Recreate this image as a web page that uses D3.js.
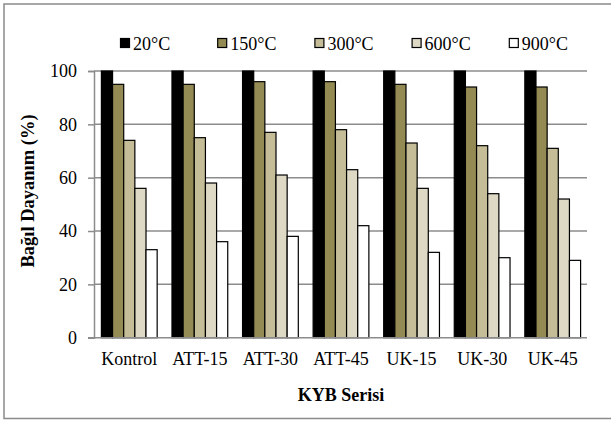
<!DOCTYPE html>
<html><head><meta charset="utf-8">
<script src="https://cdn.jsdelivr.net/npm/d3@7"></script>
<style>body{margin:0;background:#fff}svg{display:block}text{font-family:"Liberation Serif",serif;fill:#000}</style>
</head><body>
<svg id="c" width="611" height="421"></svg>
<script>
const categories = ["Kontrol","ATT-15","ATT-30","ATT-45","UK-15","UK-30","UK-45"];
const seriesNames = ["20°C","150°C","300°C","600°C","900°C"];
const s20  = [100,100,100,100,100,100,100];
const s150 = [95,95,96,96,95,94,94];
const s300 = [74,75,77,78,73,72,71];
const s600 = [56,58,61,63,56,54,52];
const s900 = [33,36,38,42,32,30,29];
const yTicks = [0,20,40,60,80,100];
const colors = ["#000000","#948A54","#C4BD97","#DDD9C4","#FFFFFF"];
const seriesValues = [s20,s150,s300,s600,s900];
const FONT = "Liberation Serif";

const svg = d3.select("#c");
svg.append("rect").attr("x",4).attr("y",4).attr("width",620).attr("height",414.5)
  .attr("fill","#fff").attr("stroke","#8a8a8a").attr("stroke-width",1.5);

const L=94, R=588, T=71, B=337.7;
const x0 = d3.scaleBand().domain(categories).range([L,R]).paddingInner(0.21).paddingOuter(0.105);
const x1 = d3.scaleBand().domain(seriesNames).range([0,x0.bandwidth()]);
const y = d3.scaleLinear().domain([0,100]).range([B,T]);

// gridlines
svg.append("g").selectAll("line").data(yTicks.filter(d=>d>0)).join("line")
  .attr("x1",L).attr("x2",R-1).attr("y1",d=>y(d)).attr("y2",d=>y(d))
  .attr("stroke","#8c8c8c").attr("stroke-width",1.5);

// y axis
const ya = svg.append("g").attr("transform",`translate(${L},0)`)
  .call(d3.axisLeft(y).tickValues(yTicks).tickSize(6).tickPadding(11));
ya.select(".domain").attr("stroke","#8c8c8c").attr("stroke-width",1.5);
ya.selectAll(".tick line").attr("stroke","#8c8c8c").attr("stroke-width",1.5);
ya.selectAll(".tick text").style("font-family",FONT).style("font-size","18px").attr("fill","#000");

// bars
const rows = categories.map((c,i)=>({c, vals: seriesNames.map((s,j)=>({s, v: seriesValues[j][i], j}))}));
const g = svg.append("g").selectAll("g").data(rows).join("g")
  .attr("transform",d=>`translate(${x0(d.c)},0)`);
g.selectAll("rect").data(d=>d.vals).join("rect")
  .attr("x",d=>x1(d.s)).attr("width",x1.bandwidth())
  .attr("y",d=>y(d.v)).attr("height",d=>B-y(d.v))
  .attr("fill",d=>colors[d.j]).attr("stroke","#000").attr("stroke-width",1.2);

// x axis
const xa = svg.append("g").attr("transform",`translate(0,${B})`)
  .call(d3.axisBottom(x0).tickSize(0).tickPadding(15));
xa.select(".domain").remove();
svg.append("line").attr("x1",L-6).attr("x2",R-1).attr("y1",B).attr("y2",B)
  .attr("stroke","#8c8c8c").attr("stroke-width",1.5);
xa.selectAll(".tick text").style("font-family",FONT).style("font-size","18px").attr("fill","#000");

// axis titles
svg.append("text").attr("transform",`translate(34,191) rotate(-90)`).attr("text-anchor","middle")
  .style("font-size","18.5px").style("font-weight","bold").text("Bağıl Dayanım (%)");
svg.append("text").attr("x",341).attr("y",401).attr("text-anchor","middle")
  .style("font-size","18px").style("font-weight","bold").text("KYB Serisi");

// legend
const lg = svg.append("g").selectAll("g").data(seriesNames).join("g")
  .attr("transform",(d,i)=>`translate(${120+i*97.2},0)`);
lg.append("rect").attr("x",0.5).attr("y",38.5).attr("width",9).attr("height",9)
  .attr("fill",(d,i)=>colors[i]).attr("stroke","#000").attr("stroke-width",1.2);
lg.append("text").attr("x",13).attr("y",49.5).style("font-size","18px").text(d=>d);
</script>
</body></html>
